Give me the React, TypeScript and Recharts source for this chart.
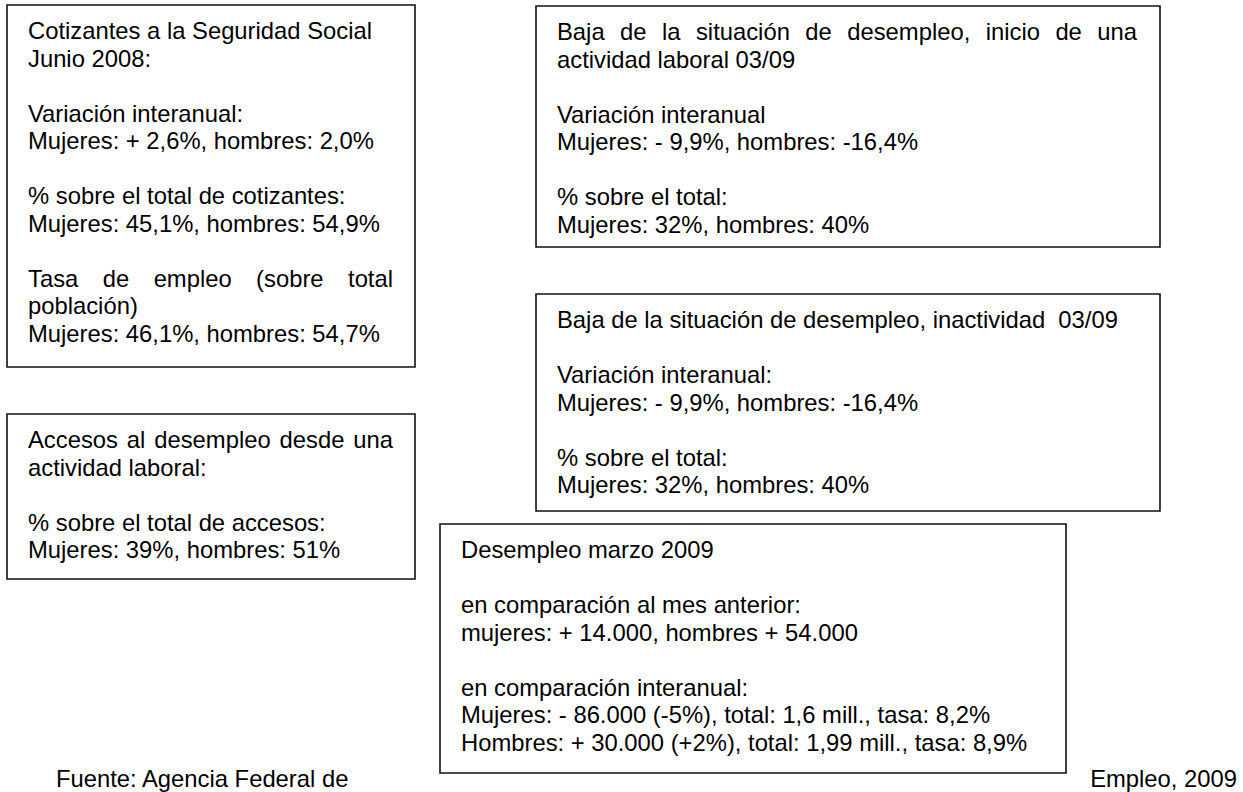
import React from "react";
import { ComposedChart, XAxis, YAxis, ReferenceArea } from "recharts";

// ---- Text content (data) ----
const box1Lines = [
  "Cotizantes a la Seguridad Social",
  "Junio 2008:",
  "",
  "Variación interanual:",
  "Mujeres: + 2,6%, hombres: 2,0%",
  "",
  "% sobre el total de cotizantes:",
  "Mujeres: 45,1%, hombres: 54,9%",
  "",
  "Tasa de empleo (sobre total",
  "población)",
  "Mujeres: 46,1%, hombres: 54,7%",
];
const box1Justified = [9];

const box2Lines = [
  "Baja de la situación de desempleo, inicio de una",
  "actividad laboral 03/09",
  "",
  "Variación interanual",
  "Mujeres: - 9,9%, hombres: -16,4%",
  "",
  "% sobre el total:",
  "Mujeres: 32%, hombres: 40%",
];
const box2Justified = [0];

const box3Lines = [
  "Baja de la situación de desempleo, inactividad  03/09",
  "",
  "Variación interanual:",
  "Mujeres: - 9,9%, hombres: -16,4%",
  "",
  "% sobre el total:",
  "Mujeres: 32%, hombres: 40%",
];
const box3Justified: number[] = [];

const box4Lines = [
  "Accesos al desempleo desde una",
  "actividad laboral:",
  "",
  "% sobre el total de accesos:",
  "Mujeres: 39%, hombres: 51%",
];
const box4Justified = [0];

const box5Lines = [
  "Desempleo marzo 2009",
  "",
  "en comparación al mes anterior:",
  "mujeres: + 14.000, hombres + 54.000",
  "",
  "en comparación interanual:",
  "Mujeres: - 86.000 (-5%), total: 1,6 mill., tasa: 8,2%",
  "Hombres: + 30.000 (+2%), total: 1,99 mill., tasa: 8,9%",
];
const box5Justified: number[] = [];

const footerLeft = "Fuente: Agencia Federal de";
const footerRight = "Empleo, 2009";

// ---- Layout (positions / styles) ----
const W = 1243;
const H = 792;
const FONT_SIZE = 23.8;
const LINE_H = 27.5;
const FONT_FAMILY = '"Liberation Sans", Arial, sans-serif';
const PAD_X = 21;
const FIRST_BASELINE = 34;

const boxes = [
  { lines: box1Lines, justified: box1Justified, x1: 7, x2: 415, y1: 5, y2: 367, textRight: 393 },
  { lines: box2Lines, justified: box2Justified, x1: 536, x2: 1160, y1: 6, y2: 247, textRight: 1137 },
  { lines: box3Lines, justified: box3Justified, x1: 536, x2: 1160, y1: 294, y2: 511, textRight: 1137 },
  { lines: box4Lines, justified: box4Justified, x1: 7, x2: 415, y1: 414, y2: 579, textRight: 393 },
  { lines: box5Lines, justified: box5Justified, x1: 440, x2: 1066, y1: 524, y2: 773, textRight: 1045 },
];

let ctx: CanvasRenderingContext2D | null = null;
function measure(t: string): number {
  if (!ctx) {
    const c = document.createElement("canvas");
    ctx = c.getContext("2d");
  }
  if (!ctx) return t.length * FONT_SIZE * 0.5;
  ctx.font = `${FONT_SIZE}px "Liberation Sans"`;
  return ctx.measureText(t).width;
}

function BoxText(props: any) {
  const { viewBox, lines, justified, textWidth } = props;
  if (!viewBox) return null;
  const x0 = viewBox.x + PAD_X;
  const y0 = viewBox.y + FIRST_BASELINE;
  return (
    <g>
      {lines.map((ln: string, i: number) => {
        if (!ln) return null;
        let ws = 0;
        if (justified.includes(i)) {
          const spaces = (ln.match(/ /g) || []).length;
          const nat = measure(ln);
          if (spaces > 0) ws = (textWidth - nat) / spaces;
        }
        return (
          <text
            key={i}
            x={x0}
            y={y0 + i * LINE_H}
            fontSize={FONT_SIZE}
            fontFamily={FONT_FAMILY}
            fill="#000"
            style={{ wordSpacing: ws ? `${ws}px` : undefined, whiteSpace: "pre" }}
            xmlSpace="preserve"
          >
            {ln}
          </text>
        );
      })}
    </g>
  );
}

function FooterText(props: any) {
  const { viewBox, value, anchor } = props;
  if (!viewBox) return null;
  const x = anchor === "end" ? viewBox.x + viewBox.width : viewBox.x;
  return (
    <text
      x={x}
      y={viewBox.y + viewBox.height}
      textAnchor={anchor}
      fontSize={FONT_SIZE}
      fontFamily={FONT_FAMILY}
      fill="#000"
    >
      {value}
    </text>
  );
}

export default function App() {
  return (
    <div style={{ position: "absolute", left: 0, top: 0, width: W, height: H, background: "#fff" }}>
      <ComposedChart width={W} height={H} data={[]} margin={{ top: 0, right: 0, bottom: 0, left: 0 }}>
        <XAxis type="number" dataKey="x" domain={[0, W]} hide allowDataOverflow />
        <YAxis type="number" dataKey="y" domain={[0, H]} reversed hide allowDataOverflow />
        {boxes.map((b, i) => (
          <ReferenceArea
            key={i}
            x1={b.x1}
            x2={b.x2}
            y1={b.y1}
            y2={b.y2}
            fill="none"
            fillOpacity={0}
            stroke="#111"
            strokeWidth={1.6}
            ifOverflow="visible"
            label={(p: any) => (
              <BoxText
                viewBox={p.viewBox}
                lines={b.lines}
                justified={b.justified}
                textWidth={b.textRight - b.x1 - PAD_X}
              />
            )}
          />
        ))}
        <ReferenceArea
          x1={56}
          x2={400}
          y1={760}
          y2={787}
          fill="none"
          fillOpacity={0}
          stroke="none"
          ifOverflow="visible"
          label={(p: any) => <FooterText viewBox={p.viewBox} value={footerLeft} anchor="start" />}
        />
        <ReferenceArea
          x1={1080}
          x2={1237}
          y1={760}
          y2={787}
          fill="none"
          fillOpacity={0}
          stroke="none"
          ifOverflow="visible"
          label={(p: any) => <FooterText viewBox={p.viewBox} value={footerRight} anchor="end" />}
        />
      </ComposedChart>
    </div>
  );
}
